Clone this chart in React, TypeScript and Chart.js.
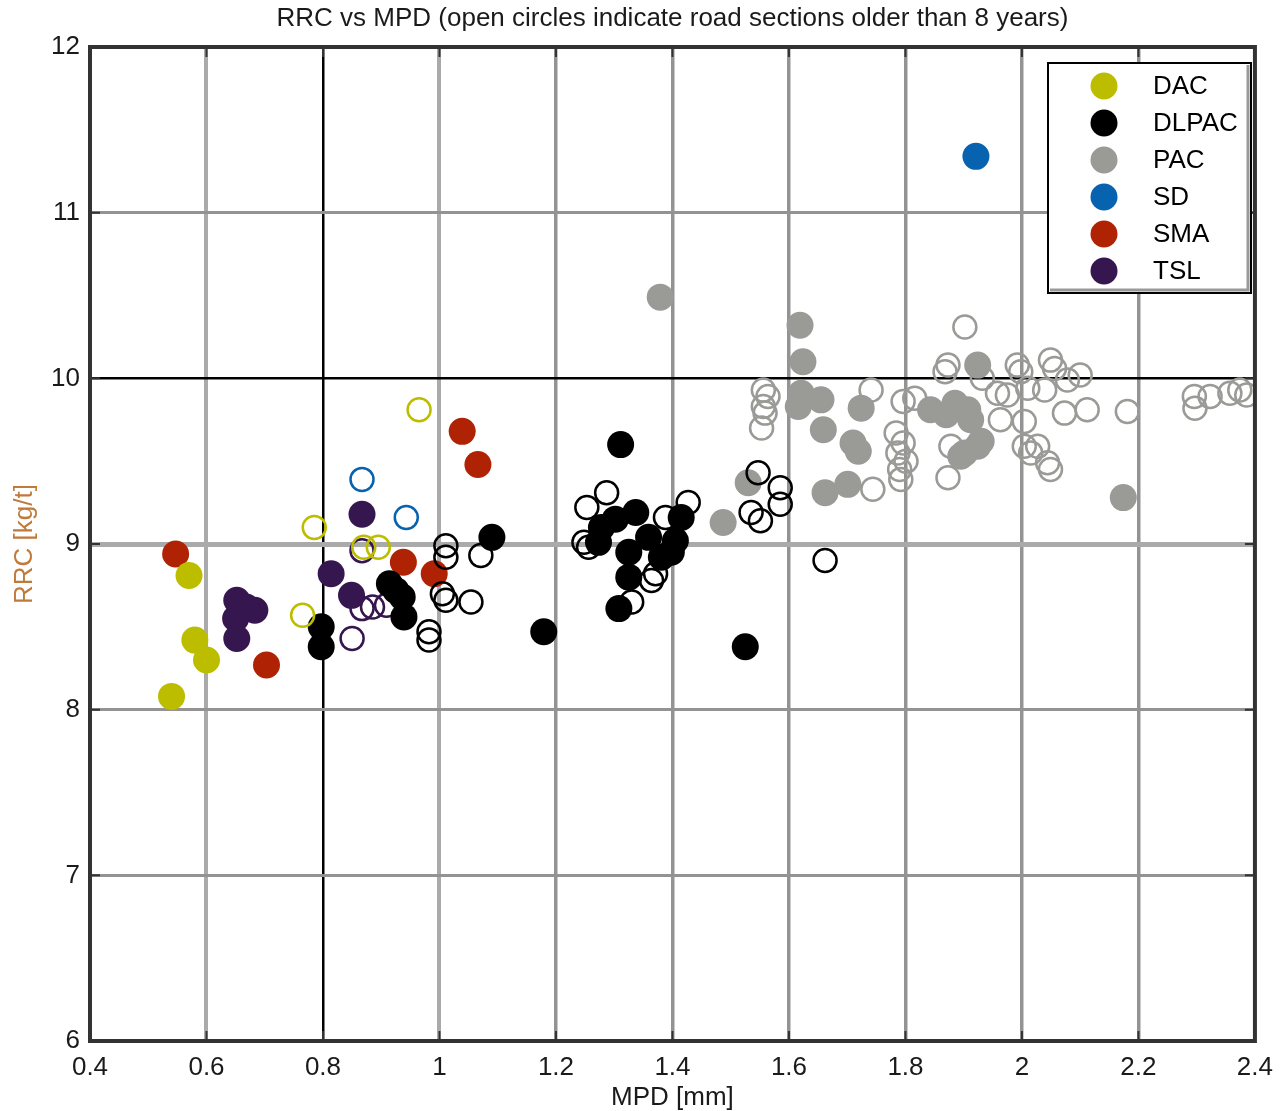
import React, { useEffect, useRef } from 'react';
import { Chart, registerables } from 'chart.js';

Chart.register(...registerables);

const FONT = "'Liberation Sans', Arial, Helvetica, sans-serif";

const chartTitle = 'RRC vs MPD (open circles indicate road sections older than 8 years)';
const xAxisTitle = 'MPD [mm]';
const yAxisTitle = 'RRC [kg/t]';

const xTicks = [0.4, 0.6, 0.8, 1.0, 1.2, 1.4, 1.6, 1.8, 2.0, 2.2, 2.4];
const xTickLabels = ['0.4', '0.6', '0.8', '1', '1.2', '1.4', '1.6', '1.8', '2', '2.2', '2.4'];
const yTicks = [6, 7, 8, 9, 10, 11, 12];
const yTickLabels = ['6', '7', '8', '9', '10', '11', '12'];

const categories = ['DAC', 'DLPAC', 'PAC', 'SD', 'SMA', 'TSL'];
const categoryColors = ['#bdbd00', '#000000', '#9a9b97', '#0762b0', '#b02204', '#36164f'];

// DAC
const dacFilledX = [0.54, 0.57, 0.58, 0.60];
const dacFilledY = [8.08, 8.81, 8.42, 8.30];
const dacOpenX = [0.965, 0.785, 0.765, 0.87, 0.895];
const dacOpenY = [9.81, 9.10, 8.57, 8.98, 8.98];

// DLPAC
const dlpacFilledX = [0.797, 0.797, 0.914, 0.925, 0.936, 0.939, 1.090, 1.179, 1.525, 1.311, 1.337, 1.302, 1.278, 1.273, 1.325, 1.325, 1.308, 1.359, 1.398, 1.415, 1.405, 1.381];
const dlpacFilledY = [8.50, 8.38, 8.76, 8.72, 8.68, 8.56, 9.04, 8.47, 8.38, 9.60, 9.19, 9.15, 9.10, 9.01, 8.95, 8.80, 8.61, 9.04, 8.95, 9.16, 9.02, 8.92];
const dlpacOpenX = [1.287, 1.253, 1.248, 1.256, 1.427, 1.388, 1.364, 1.371, 1.330, 1.547, 1.585, 1.585, 1.535, 1.551, 1.662, 1.071, 1.054, 1.011, 1.011, 1.005, 1.011, 0.982, 0.982];
const dlpacOpenY = [9.31, 9.22, 9.01, 8.98, 9.25, 9.16, 8.78, 8.82, 8.65, 9.43, 9.34, 9.24, 9.19, 9.14, 8.90, 8.93, 8.65, 8.99, 8.92, 8.70, 8.66, 8.47, 8.42];

// PAC
const pacFilledX = [1.379, 2.174, 1.619, 1.624, 1.621, 1.616, 1.655, 1.659, 1.710, 1.719, 1.724, 1.662, 1.701, 1.530, 1.487, 1.843, 1.885, 1.902, 1.912, 1.924, 1.907, 1.924, 1.895, 1.93, 1.87];
const pacFilledY = [10.49, 9.28, 10.32, 10.10, 9.91, 9.83, 9.87, 9.69, 9.61, 9.56, 9.82, 9.31, 9.36, 9.37, 9.13, 9.81, 9.85, 9.55, 9.75, 10.08, 9.81, 9.59, 9.53, 9.62, 9.78];
const pacOpenX = [1.556, 1.564, 1.556, 1.559, 1.553, 1.741, 1.796, 1.816, 1.784, 1.796, 1.787, 1.801, 1.790, 1.792, 1.744, 1.902, 1.873, 1.868, 1.878, 1.873, 1.992, 1.998, 2.049, 2.056, 2.100, 2.078, 2.010, 2.039, 1.958, 2.073, 2.112, 2.181, 2.004, 1.963, 2.004, 2.015, 2.027, 2.049, 2.044, 2.296, 2.297, 2.323, 2.357, 2.374, 2.386, 1.932, 1.975];
const pacOpenY = [9.93, 9.89, 9.83, 9.79, 9.70, 9.93, 9.86, 9.88, 9.67, 9.61, 9.55, 9.50, 9.45, 9.39, 9.33, 10.31, 10.08, 10.04, 9.59, 9.40, 10.08, 10.04, 10.11, 10.06, 10.02, 9.99, 9.94, 9.93, 9.91, 9.79, 9.81, 9.80, 9.74, 9.75, 9.59, 9.55, 9.59, 9.45, 9.49, 9.89, 9.82, 9.89, 9.91, 9.93, 9.90, 10.00, 9.90];

// SD
const sdFilledX = [1.921];
const sdFilledY = [11.34];
const sdOpenX = [0.867, 0.943];
const sdOpenY = [9.39, 9.16];

// SMA
const smaFilledX = [0.547, 0.703, 1.039, 1.066, 0.938, 0.991];
const smaFilledY = [8.94, 8.27, 9.68, 9.48, 8.89, 8.82];
const smaOpenX: number[] = [];
const smaOpenY: number[] = [];

// TSL
const tslFilledX = [0.867, 0.814, 0.849, 0.652, 0.683, 0.650, 0.652, 0.668];
const tslFilledY = [9.18, 8.82, 8.69, 8.66, 8.60, 8.55, 8.43, 8.62];
const tslOpenX = [0.867, 0.850, 0.867, 0.885, 0.909];
const tslOpenY = [8.96, 8.43, 8.61, 8.62, 8.63];

const filledX = [dacFilledX, dlpacFilledX, pacFilledX, sdFilledX, smaFilledX, tslFilledX];
const filledY = [dacFilledY, dlpacFilledY, pacFilledY, sdFilledY, smaFilledY, tslFilledY];
const openX = [dacOpenX, dlpacOpenX, pacOpenX, sdOpenX, smaOpenX, tslOpenX];
const openY = [dacOpenY, dlpacOpenY, pacOpenY, sdOpenY, smaOpenY, tslOpenY];

const zip = (xs: number[], ys: number[]) => xs.map((x, i) => ({ x, y: ys[i] }));

const xGridColor = (v: number) => {
  const k = Math.round(v * 10);
  if (k === 4 || k === 24) return 'rgba(0,0,0,0)';
  if (k === 8) return '#000000';
  if (k === 6 || k === 10) return '#aaaaaa';
  return '#939393';
};
const xGridWidth = (v: number) => {
  const k = Math.round(v * 10);
  if (k === 8) return 2.5;
  if (k === 6 || k === 10) return 4;
  return 3.5;
};
const yGridColor = (v: number) => {
  if (v === 6 || v === 12) return 'rgba(0,0,0,0)';
  if (v === 10) return '#000000';
  if (v === 9) return '#aaaaaa';
  return '#939393';
};
const yGridWidth = (v: number) => {
  if (v === 10) return 2.5;
  if (v === 9) return 5;
  return 3;
};

const decorPlugin = {
  id: 'decor',
  afterDatasetsDraw(chart: any) {
    const { ctx, chartArea: a, scales } = chart;
    ctx.save();
    ctx.strokeStyle = '#333333';
    ctx.lineWidth = 2;
    xTicks.forEach((v) => {
      const px = scales.x.getPixelForValue(v);
      ctx.beginPath();
      ctx.moveTo(px, a.bottom);
      ctx.lineTo(px, a.bottom - 10);
      ctx.moveTo(px, a.top);
      ctx.lineTo(px, a.top + 10);
      ctx.stroke();
    });
    yTicks.forEach((v) => {
      const py = scales.y.getPixelForValue(v);
      ctx.beginPath();
      ctx.moveTo(a.left, py);
      ctx.lineTo(a.left + 10, py);
      ctx.moveTo(a.right, py);
      ctx.lineTo(a.right - 10, py);
      ctx.stroke();
    });
    ctx.strokeStyle = '#333333';
    ctx.lineWidth = 4;
    ctx.strokeRect(a.left, a.top, a.right - a.left, a.bottom - a.top);
    ctx.restore();
  },
  afterDraw(chart: any) {
    const { ctx, chartArea: a } = chart;
    ctx.save();
    // title
    ctx.fillStyle = '#1a1a1a';
    ctx.font = `26px ${FONT}`;
    ctx.textAlign = 'center';
    ctx.textBaseline = 'middle';
    ctx.fillText(chartTitle, (a.left + a.right) / 2, 19);

    // legend box
    const bx = 1048, by = 63, bw = 203, bh = 230;
    ctx.fillStyle = '#ffffff';
    ctx.fillRect(bx, by, bw, bh);
    ctx.strokeStyle = '#999999';
    ctx.lineWidth = 3;
    ctx.beginPath();
    ctx.moveTo(bx + bw - 3, by + 2);
    ctx.lineTo(bx + bw - 3, by + bh - 3);
    ctx.lineTo(bx + 2, by + bh - 3);
    ctx.stroke();
    ctx.strokeStyle = '#000000';
    ctx.lineWidth = 2;
    ctx.strokeRect(bx, by, bw, bh);
    ctx.font = `26px ${FONT}`;
    ctx.textAlign = 'left';
    ctx.textBaseline = 'middle';
    categories.forEach((name, i) => {
      const cy = 86 + i * 37;
      ctx.fillStyle = categoryColors[i];
      ctx.beginPath();
      ctx.arc(1104, cy, 13.5, 0, Math.PI * 2);
      ctx.fill();
      ctx.fillStyle = '#000000';
      ctx.fillText(name, 1153, cy + 1);
    });
    ctx.restore();
  },
};

export default function App() {
  const canvasRef = useRef<HTMLCanvasElement | null>(null);

  useEffect(() => {
    document.body.style.margin = '0';
    const canvas = canvasRef.current;
    if (!canvas) return;

    const datasets: any[] = [];
    categories.forEach((name, i) => {
      datasets.push({
        label: name,
        data: zip(filledX[i], filledY[i]),
        pointRadius: 13.5,
        pointBackgroundColor: categoryColors[i],
        pointBorderColor: categoryColors[i],
        pointBorderWidth: 0,
        showLine: false,
      });
      datasets.push({
        label: name + ' (older than 8 years)',
        data: zip(openX[i], openY[i]),
        pointRadius: 11.5,
        pointBackgroundColor: 'rgba(255,255,255,0)',
        pointBorderColor: categoryColors[i],
        pointBorderWidth: 2.5,
        showLine: false,
      });
    });

    const chart = new Chart(canvas, {
      type: 'scatter',
      data: { datasets },
      options: {
        animation: false,
        responsive: false,
        devicePixelRatio: 1,
        layout: { padding: { top: 47, right: 26, left: 0, bottom: 0 } },
        plugins: {
          legend: { display: false },
          title: { display: false },
          tooltip: { enabled: false },
        },
        scales: {
          x: {
            type: 'linear',
            min: 0.4,
            max: 2.4,
            afterBuildTicks: (s: any) => {
              s.ticks = xTicks.map((v) => ({ value: v }));
            },
            afterFit: (s: any) => {
              s.height = 70;
            },
            ticks: {
              callback: (_v: any, i: number) => xTickLabels[i],
              font: { family: FONT, size: 26 },
              color: '#1a1a1a',
              padding: 11,
              maxRotation: 0,
              autoSkip: false,
            },
            grid: {
              drawTicks: false,
              color: (c: any) => xGridColor(c.tick ? c.tick.value : 0.4),
              lineWidth: (c: any) => xGridWidth(c.tick ? c.tick.value : 0.4),
            },
            border: { display: false },
            title: {
              display: true,
              text: xAxisTitle,
              font: { family: FONT, size: 26, lineHeight: 1 },
              color: '#1a1a1a',
              padding: { top: 0, bottom: 0 },
            },
          },
          y: {
            type: 'linear',
            min: 6,
            max: 12,
            afterBuildTicks: (s: any) => {
              s.ticks = yTicks.map((v) => ({ value: v }));
            },
            afterFit: (s: any) => {
              s.width = 90;
            },
            ticks: {
              callback: (_v: any, i: number) => yTickLabels[i],
              font: { family: FONT, size: 26 },
              color: '#1a1a1a',
              padding: 10,
              autoSkip: false,
            },
            grid: {
              drawTicks: false,
              color: (c: any) => yGridColor(c.tick ? c.tick.value : 6),
              lineWidth: (c: any) => yGridWidth(c.tick ? c.tick.value : 6),
            },
            border: { display: false },
            title: {
              display: true,
              text: yAxisTitle,
              font: { family: FONT, size: 26, lineHeight: 1 },
              color: '#c07a3a',
              padding: { top: 12, bottom: 0 },
            },
          },
        },
      },
      plugins: [decorPlugin],
    });

    return () => {
      chart.destroy();
    };
  }, []);

  return (
    <div style={{ position: 'absolute', left: 0, top: 0, width: 1284, height: 1111, background: '#ffffff' }}>
      <canvas ref={canvasRef} width={1284} height={1111} style={{ width: 1284, height: 1111, display: 'block' }} />
    </div>
  );
}
